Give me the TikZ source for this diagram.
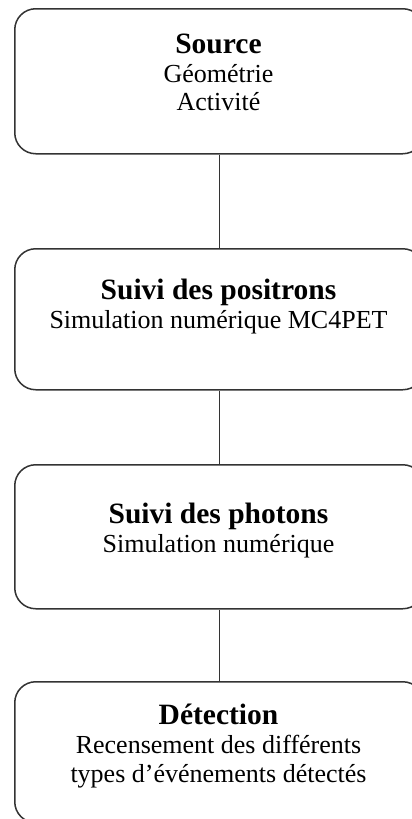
\documentclass[tikz,border=0pt]{standalone}
\usepackage{fontspec}
\setmainfont{Liberation Serif}
\begin{document}
\begin{tikzpicture}[x=1pt,y=-1pt,
  box/.style={draw=black!80, line width=1.5pt, rounded corners=21pt, minimum width=409pt, anchor=north west, inner sep=0pt},
  ttl/.style={anchor=base, font=\fontsize{29.5}{33}\selectfont\bfseries, inner sep=0pt},
  txt/.style={anchor=base, font=\fontsize{26}{29}\selectfont, inner sep=0pt},
  link/.style={draw=black!80, line width=1.5pt}]
\useasboundingbox (0,0) rectangle (412,819);
% boxes
\node[box, minimum height=145pt] (b1) at (14,8) {};
\node[box, minimum height=141pt] (b2) at (14,248) {};
\node[box, minimum height=144pt] (b3) at (14,464) {};
\node[box, minimum height=141pt] (b4) at (14,681) {};
% connectors
\draw[link] (b1.south) -- (b2.north);
\draw[link] (b2.south) -- (b3.north);
\draw[link] (b3.south) -- (b4.north);
% texts
\node[ttl] (t1a) at (218.5,53) {Source};
\node[txt] (t1b) at (218.5,82) {Géométrie};
\node[txt] (t1c) at (218.5,110) {Activité};
\node[ttl] (t2a) at (218.5,299) {Suivi des positrons};
\node[txt] (t2b) at (218.5,328) {Simulation numérique MC4PET};
\node[ttl] (t3a) at (218.5,523) {Suivi des photons};
\node[txt] (t3b) at (218.5,552) {Simulation numérique};
\node[ttl] (t4a) at (218.5,724) {Détection};
\node[txt] (t4b) at (218.5,753) {Recensement des différents};
\node[txt] (t4c) at (218.5,782) {types d’événements détectés};
\end{tikzpicture}
\end{document}
